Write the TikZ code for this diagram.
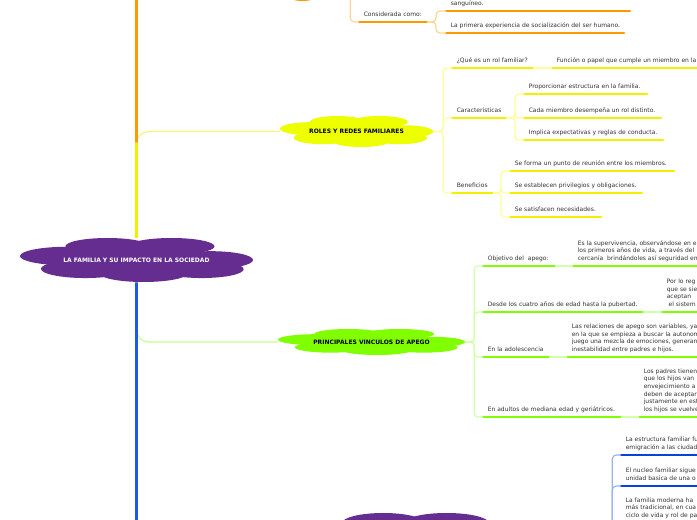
\documentclass[tikz,border=0pt]{standalone}
\usepackage{fontspec}
\setmainfont{DejaVu Sans}
\usetikzlibrary{positioning}

\definecolor{famorange}{HTML}{FF9900}
\definecolor{famorangelt}{HTML}{FFD699}
\definecolor{famyellow}{HTML}{F2F000}
\definecolor{famyellowfill}{HTML}{EEFF00}
\definecolor{famyellowlt}{HTML}{FFFF99}
\definecolor{famgreen}{HTML}{80FF00}
\definecolor{famgreenlt}{HTML}{D4FFAA}
\definecolor{famblue}{HTML}{1A5CE6}
\definecolor{famblueul}{HTML}{0A3FE0}
\definecolor{fambluelt}{HTML}{99B3F0}
\definecolor{fampurple}{HTML}{662D91}
\definecolor{famtext}{HTML}{333333}

\tikzset{
  cloudlabel/.style={inner sep=0pt, font=\fontsize{4.5}{5}\selectfont\bfseries, text=black},
  leaf/.style={anchor=south west, inner xsep=3.4pt, inner ysep=3.2pt, text depth=0.8pt,
    font=\fontsize{4.5}{5.7}\selectfont, text=famtext, align=left},
  uline/.style={line width=2.2pt, line cap=round, draw=#1},
  trunk/.style={line width=2.2pt, draw=#1, rounded corners=9pt},
  twig/.style={line width=0.9pt, draw=#1, rounded corners=3pt},
}

% cloud: [label opts]{name}{x}{y}{half width}{half height}{fill}{text}
\newcommand{\famcloud}[8][]{%
  \begin{scope}[shift={(#3,#4)}, xscale=#5, yscale=#6]
    \foreach \lx/\ly/\rx/\ry in {0/0/0.7/0.6, -0.6/-0.18/0.4/0.42, -0.25/-0.62/0.36/0.38,
        0.3/-0.62/0.37/0.38, 0.64/0/0.36/0.4, -0.44/0.4/0.38/0.42, 0.06/0.6/0.38/0.4, 0.56/0.42/0.36/0.4}
      \fill[#7] (\lx,\ly) ellipse [x radius=\rx, y radius=\ry];
  \end{scope}
  \node[cloudlabel, minimum width=#5*1.5pt, minimum height=#6*1.5pt, #1] (#2) at (#3,#4) {#8};%
}

\begin{document}
\begin{tikzpicture}[x=0.75pt, y=-0.75pt]
  \useasboundingbox (0,0) rectangle (697,520);
  \clip (0,0) rectangle (697,520);
  \fill[white] (0,0) rectangle (697,520);

  % topics
  \famcloud{fam}{300}{-15}{42}{16}{famorange}{}
  \famcloud{roles}{356.5}{131.5}{76.5}{15.5}{famyellowfill}{ROLES Y REDES FAMILIARES}
  \famcloud{vinc}{371.5}{342}{93.5}{13}{famgreen}{PRINCIPALES VINCULOS DE APEGO}
  \famcloud[text=white]{main}{136.5}{260}{116.5}{22}{fampurple}{LA FAMILIA Y SU IMPACTO EN LA SOCIEDAD}
  \famcloud{bot}{412}{540}{115}{27}{fampurple}{}

  % main branches
  \draw[twig=famyellow!55, rounded corners=9pt] (main.north) |- (roles.west);
  \draw[twig=famgreen!45, rounded corners=9pt] (main.south) |- (vinc.west);
  \draw[trunk=famorange] (main.north) ++(0,-95) |- (fam.west);
  \draw[trunk=famyellow] (main.north) -- ++(0,-95);
  \draw[trunk=famblue] (main.south) |- (bot.west);

  % orange branch
  \node[leaf] (cons) at (359,22) {Considerada como:};
  \node[leaf] (o1) at (446,11) {sanguíneo.};
  \node[leaf] (o2) at (446,33) {La primera experiencia de socialización del ser humano.};
  \draw[uline=famorange] (cons.south west) -- ++(68,0) coordinate (cons-end);
  \draw[uline=famorange] (o1.south west) -- ++(184,0);
  \draw[uline=famorange] (o2.south west) -- ++(178,0);
  \draw[twig=famorangelt] (fam.east) -- ++(8,0) |- (cons.south west);
  \draw[twig=famorangelt] (cons-end) -- ++(9,0) |- (o1.south west);
  \draw[twig=famorangelt] (cons-end) -- ++(9,0) |- (o2.south west);

  % yellow branch
  \node[leaf] (q) at (452,68) {¿Qué es un rol familiar?};
  \node[leaf] (qa) at (552,68) {Función o papel que cumple un miembro en la};
  \node[leaf] (car) at (452,118) {Características};
  \node[leaf] (c1) at (524,94) {Proporcionar estructura en la familia.};
  \node[leaf] (c2) at (524,118) {Cada miembro desempeña un rol distinto.};
  \node[leaf] (c3) at (524,140) {Implica expectativas y reglas de conducta.};
  \node[leaf] (ben) at (452,193) {Beneficios};
  \node[leaf] (b1) at (510,171) {Se forma un punto de reunión entre los miembros.};
  \node[leaf] (b2) at (510,193) {Se establecen privilegios y obligaciones.};
  \node[leaf] (b3) at (510,217) {Se satisfacen necesidades.};
  \draw[uline=famyellow] (q.south west) -- ++(81,0) coordinate (q-end);
  \draw[uline=famyellow] (qa.south west) -- ++(160,0);
  \draw[uline=famyellow] (car.south west) -- ++(54,0) coordinate (car-end);
  \draw[uline=famyellow] (c1.south west) -- ++(123,0);
  \draw[uline=famyellow] (c2.south west) -- ++(137,0);
  \draw[uline=famyellow] (c3.south west) -- ++(139,0);
  \draw[uline=famyellow] (ben.south west) -- ++(41,0) coordinate (ben-end);
  \draw[uline=famyellow] (b1.south west) -- ++(164,0);
  \draw[uline=famyellow] (b2.south west) -- ++(132,0);
  \draw[uline=famyellow] (b3.south west) -- ++(91,0);
  \draw[twig=famyellowlt] (roles.east) -- ++(10,0) |- (q.south west);
  \draw[twig=famyellowlt] (roles.east) -- ++(10,0) |- (car.south west);
  \draw[twig=famyellowlt] (roles.east) -- ++(10,0) |- (ben.south west);
  \draw[twig=famyellowlt] (q-end) -- (qa.south west);
  \draw[twig=famyellowlt] (car-end) -- ++(9,0) |- (c1.south west);
  \draw[twig=famyellowlt] (car-end) -- ++(9,0) |- (c2.south west);
  \draw[twig=famyellowlt] (car-end) -- ++(9,0) |- (c3.south west);
  \draw[twig=famyellowlt] (ben-end) -- ++(8,0) |- (b1.south west);
  \draw[twig=famyellowlt] (ben-end) -- ++(8,0) |- (b2.south west);
  \draw[twig=famyellowlt] (ben-end) -- ++(8,0) |- (b3.south west);

  % green branch
  \node[leaf] (obj) at (483,266) {Objetivo del~ apego:};
  \node[leaf] (obja) at (573,266) {Es la supervivencia, observándose en e\\los primeros años de vida, a través del\\cercanía~ brindándoles así seguridad en};
  \node[leaf] (cuat) at (483,312) {Desde los cuatro años de edad hasta la pubertad.};
  \node[leaf] (cuata) at (662,312) {Por lo reg\\que se sie\\aceptan\\~el sistem};
  \node[leaf] (adol) at (483,357) {En la adolescencia};
  \node[leaf] (adola) at (567,357) {Las relaciones de apego son variables, ya\\en la que se empieza a buscar la autonom\\juego una mezcla de emociones, generan\\inestabilidad entre padres e hijos.};
  \node[leaf] (adul) at (483,417) {En adultos de mediana edad y geriátricos.};
  \node[leaf] (adula) at (639,417) {Los padres tienen\\que los hijos van\\envejecimiento a\\deben de aceptar\\justamente en est\\los hijos se vuelve};
  \draw[uline=famgreen] (obj.south west) -- ++(72,0) coordinate (obj-end);
  \draw[uline=famgreen] (obja.south west) -- ++(150,0);
  \draw[uline=famgreen] (cuat.south west) -- ++(160,0) coordinate (cuat-end);
  \draw[uline=famgreen] (cuata.south west) -- ++(60,0);
  \draw[uline=famgreen] (adol.south west) -- ++(66,0) coordinate (adol-end);
  \draw[uline=famgreen] (adola.south west) -- ++(150,0);
  \draw[uline=famgreen] (adul.south west) -- ++(138,0) coordinate (adul-end);
  \draw[uline=famgreen] (adula.south west) -- ++(80,0);
  \draw[twig=famgreenlt] (vinc.east) -- ++(9,0) |- (obj.south west);
  \draw[twig=famgreenlt] (vinc.east) -- ++(9,0) |- (cuat.south west);
  \draw[twig=famgreenlt] (vinc.east) -- ++(9,0) |- (adol.south west);
  \draw[twig=famgreenlt] (vinc.east) -- ++(9,0) |- (adul.south west);
  \draw[twig=famgreenlt] (obj-end) -- (obja.south west);
  \draw[twig=famgreenlt] (cuat-end) -- (cuata.south west);
  \draw[twig=famgreenlt] (adol-end) -- (adola.south west);
  \draw[twig=famgreenlt] (adul-end) -- (adula.south west);

  % blue branch
  \node[leaf] (e1) at (621,455) {La estructura familiar fu\\emigración a las ciudad};
  \node[leaf] (e2) at (621,486) {El nucleo familiar sigue\\unidad basica de una o};
  \node[leaf] (e3) at (621,523) {La familia moderna ha\\más tradicional, en cua\\ciclo de vida y rol de pa};
  \draw[uline=famblueul] (e1.south west) -- ++(100,0);
  \draw[uline=famblueul] (e2.south west) -- ++(100,0);
  \draw[uline=famblueul] (e3.south west) -- ++(100,0);
  \draw[twig=fambluelt] (bot.east) -- ++(85,0) |- (e1.south west);
  \draw[twig=fambluelt] (bot.east) -- ++(85,0) |- (e2.south west);
  \draw[twig=fambluelt] (bot.east) -- ++(85,0) |- (e3.south west);
\end{tikzpicture}
\end{document}
